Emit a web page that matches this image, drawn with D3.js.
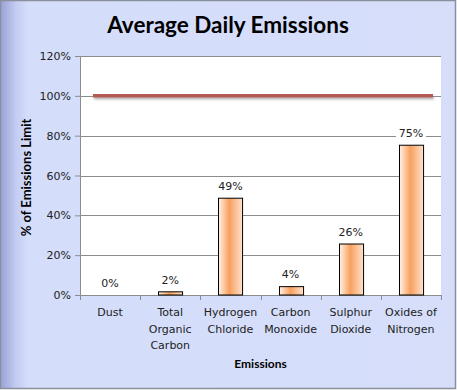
<!DOCTYPE html>
<html><head><meta charset="utf-8">
<script src="https://cdn.jsdelivr.net/npm/d3@7"></script>
<style>body{margin:0;padding:0;overflow:hidden;background:#fff}</style>
</head><body>
<script>
const categories = [["Dust"],["Total","Organic","Carbon"],["Hydrogen","Chloride"],["Carbon","Monoxide"],["Sulphur","Dioxide"],["Oxides of","Nitrogen"]];
const values = [0, 1.6, 48.6, 4.2, 25.6, 75.2];
const labels = ["0%","2%","49%","4%","26%","75%"];
const limit = [100];
const yTicks = [0,20,40,60,80,100,120];

const W=457,H=390;
const svg=d3.select("body").append("svg").attr("width",W).attr("height",H);
const defs=svg.append("defs");
const bg=defs.append("linearGradient").attr("id","bg").attr("x1","0").attr("x2","1");
bg.append("stop").attr("offset","0").attr("stop-color","#9aa2d6");
bg.append("stop").attr("offset","0.035").attr("stop-color","#c4cdf2");
bg.append("stop").attr("offset","0.06").attr("stop-color","#d4ddfa");
bg.append("stop").attr("offset","1").attr("stop-color","#d6defa");
const bar=defs.append("linearGradient").attr("id","bar").attr("x1","0").attr("x2","1");
bar.append("stop").attr("offset","0").attr("stop-color","#fff1e4");
bar.append("stop").attr("offset","0.45").attr("stop-color","#f8a060");
bar.append("stop").attr("offset","1").attr("stop-color","#fde2cc");
const sh=defs.append("filter").attr("id","sh").attr("filterUnits","userSpaceOnUse")
 .attr("x",0).attr("y",0).attr("width",W).attr("height",H);
sh.append("feGaussianBlur").attr("stdDeviation","1.3");

svg.append("rect").attr("x",0.5).attr("y",0.5).attr("width",W-2).attr("height",H-2).attr("fill","url(#bg)").attr("stroke","#8a8f9c").attr("stroke-width",1.5);

const x0=80,x1=441,yTop=56,yBot=295;
const x=d3.scaleBand().domain(d3.range(categories.length)).range([x0,x1]).paddingInner(0.6).paddingOuter(0.3);
const xb=d3.scaleBand().domain(d3.range(categories.length)).range([x0,x1]);
const y=d3.scaleLinear().domain([0,120]).range([yBot,yTop]);

svg.append("rect").attr("x",x0).attr("y",yTop).attr("width",x1-x0).attr("height",yBot-yTop).attr("fill","#fff");
// gridlines
svg.append("g").selectAll("line").data(yTicks.slice(1)).join("line")
 .attr("x1",x0).attr("x2",x1).attr("y1",d=>Math.round(y(d))+0.5).attr("y2",d=>Math.round(y(d))+0.5)
 .attr("stroke","#8c8c8c").attr("stroke-width",1);

// y axis
const ya=svg.append("g").attr("transform",`translate(${x0},0)`)
 .call(d3.axisLeft(y).tickValues(yTicks).tickFormat(d=>d+"%").tickSize(5).tickSizeOuter(0));
ya.select(".domain").attr("stroke","#8c8c8c");
ya.selectAll(".tick line").attr("stroke","#8c8c8c");
ya.selectAll(".tick text").attr("font-family","DejaVu Sans").attr("font-size","11px").attr("fill","#222").attr("x",-9);

// x axis
const xa=svg.append("g").attr("transform",`translate(0,${yBot})`);
xa.append("line").attr("x1",x0).attr("x2",x1).attr("y1",0.5).attr("y2",0.5).attr("stroke","#8c8c8c");
xa.selectAll("line.t").data(d3.range(categories.length+1)).join("line").attr("class","t")
 .attr("x1",i=>Math.round(i<categories.length?xb(i):x1)+0.5).attr("x2",i=>Math.round(i<categories.length?xb(i):x1)+0.5)
 .attr("y1",0).attr("y2",5).attr("stroke","#8c8c8c");
const ct=xa.selectAll("text").data(categories).join("text")
 .attr("font-family","DejaVu Sans").attr("font-size","11px").attr("fill","#222").attr("text-anchor","middle")
 .attr("transform",(d,i)=>`translate(${xb(i)+xb.bandwidth()/2},0)`);
ct.selectAll("tspan").data(d=>d).join("tspan").attr("x",0).attr("y",(d,j)=>21+j*16.5).text(d=>d);

// bars
svg.append("g").selectAll("rect").data(values).join("rect")
 .attr("x",(d,i)=>Math.round(x(i))+0.5).attr("width",x.bandwidth())
 .attr("y",d=>y(d)).attr("height",d=>yBot-y(d))
 .attr("fill","url(#bar)").attr("stroke","#000").attr("stroke-width",1);

// data labels
const lg=svg.append("g").selectAll("g").data(values).join("g")
 .attr("transform",(d,i)=>`translate(${x(i)+x.bandwidth()/2},${y(d)-12})`);
lg.append("rect").attr("x",-15).attr("y",-8).attr("width",30).attr("height",16).attr("fill","#fff");
lg.append("text").attr("text-anchor","middle").attr("dy","0.35em")
 .attr("font-family","DejaVu Sans").attr("font-size","11px").attr("fill","#222").text((d,i)=>labels[i]);

// limit line with shadow
const lim=svg.append("g");
lim.selectAll("line.s").data(limit).join("line").attr("class","s")
 .attr("x1",x0+14).attr("x2",x1-7).attr("y1",d=>y(d)+2).attr("y2",d=>y(d)+2)
 .attr("stroke","#888").attr("stroke-opacity",0.6).attr("stroke-width",3.5).attr("filter","url(#sh)");
lim.selectAll("line.l").data(limit).join("line").attr("class","l")
 .attr("x1",x0+13).attr("x2",x1-8).attr("y1",d=>y(d)).attr("y2",d=>y(d))
 .attr("stroke","#b35a55").attr("stroke-width",3.5);

// titles
svg.append("text").attr("x",228).attr("y",33).attr("text-anchor","middle")
 .attr("font-family","Lato").attr("font-weight","bold").attr("font-size","22.5px").attr("fill","#000").text("Average Daily Emissions");
svg.append("text").attr("x",(x0+x1)/2).attr("y",368).attr("text-anchor","middle")
 .attr("font-family","Lato").attr("font-weight","bold").attr("font-size","12px").attr("fill","#000").text("Emissions");
svg.append("text").attr("transform",`translate(31,${(yTop+yBot)/2+2}) rotate(-90)`).attr("text-anchor","middle")
 .attr("font-family","Lato").attr("font-weight","bold").attr("font-size","13px").attr("fill","#000").text("% of Emissions  Limit");
</script>
</body></html>
